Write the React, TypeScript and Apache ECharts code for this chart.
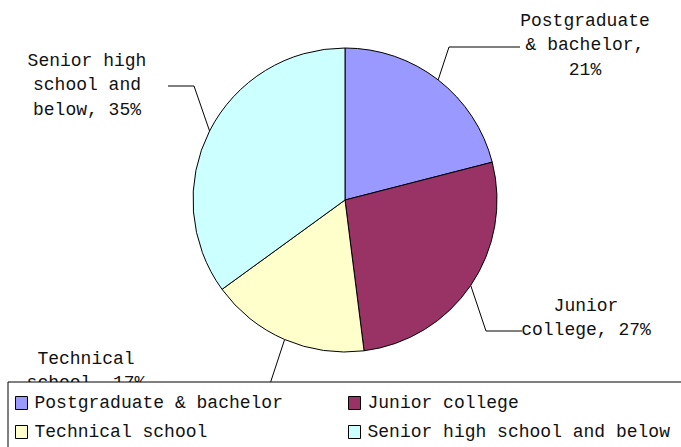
import React, { useEffect, useRef } from "react";
import * as echarts from "echarts";

const categories = [
  "Postgraduate & bachelor",
  "Junior college",
  "Technical school",
  "Senior high school and below",
];
const values = [21, 27, 17, 35];
const labelTemplates = [
  "Postgraduate\n& bachelor,\n{p}%",
  "Junior\ncollege, {p}%",
  "Technical\nschool, {p}%",
  "Senior high\nschool and\nbelow, {p}%",
];
const colors = ["#9999FF", "#993366", "#FFFFCC", "#CCFFFF"];

// label layout (centre of label text, leader-line elbow and end)
const labelPos = [
  { x: 585, y: 45, elbow: [449, 47], end: [520, 47] },
  { x: 586, y: 318, elbow: [486, 331], end: [522, 331] },
  { x: 86, y: 371, elbow: [268, 390], end: [150, 390] },
  { x: 87, y: 85, elbow: [194, 86], end: [168, 86] },
];

const FONT = "Liberation Mono";

export default function App() {
  const ref = useRef<HTMLDivElement>(null);
  useEffect(() => {
    document.body.style.margin = "0";
    document.body.style.overflow = "hidden";
    const chart = echarts.init(ref.current!, null, { renderer: "svg" });
    const legendText = {
      fontFamily: FONT,
      fontSize: 18,
      color: "#111",
      lineHeight: 18,
      padding: [0, 0, 0, 2],
    };
    const legendBase = {
      orient: "vertical",
      top: 394,
      height: 80,
      padding: 0,
      itemWidth: 12,
      itemHeight: 13,
      itemGap: 11,
      icon: "rect",
      itemStyle: { borderColor: "#000", borderWidth: 1 },
      textStyle: legendText,
      selectedMode: false,
      z: 10,
    };
    chart.setOption({
      animation: false,
      backgroundColor: "#fff",
      color: colors,
      legend: [
        { ...legendBase, left: 15, data: [categories[0], categories[2]] },
        { ...legendBase, left: 348, data: [categories[1], categories[3]] },
      ],
      graphic: [
        {
          type: "rect",
          z: 8,
          shape: { x: 8, y: 382, width: 700, height: 100 },
          style: { fill: "#fff", stroke: "#000", lineWidth: 1 },
        },
      ],
      series: [
        {
          type: "pie",
          center: [345, 200],
          radius: 152,
          startAngle: 90,
          clockwise: true,
          z: 2,
          itemStyle: { borderColor: "#000", borderWidth: 1 },
          emphasis: { disabled: true },
          label: {
            show: true,
            position: "outside",
            fontFamily: FONT,
            fontSize: 18,
            lineHeight: 24.5,
            color: "#111",
            align: "center",
            formatter: (p: any) =>
              labelTemplates[p.dataIndex].replace("{p}", String(Math.round(p.percent))),
          },
          labelLine: {
            show: true,
            length: 20,
            length2: 20,
            lineStyle: { color: "#000", width: 1 },
          },
          labelLayout: (params: any) => {
            const lp = labelPos[params.dataIndex];
            const edge = params.labelLinePoints ? params.labelLinePoints[0] : lp.elbow;
            return {
              x: lp.x,
              y: lp.y,
              align: "center",
              verticalAlign: "middle",
              labelLinePoints: [edge, lp.elbow, lp.end],
            };
          },
          data: categories.map((name, i) => ({ name, value: values[i] })),
        },
      ],
    });
    return () => chart.dispose();
  }, []);
  return <div ref={ref} style={{ width: 681, height: 447 }} />;
}
